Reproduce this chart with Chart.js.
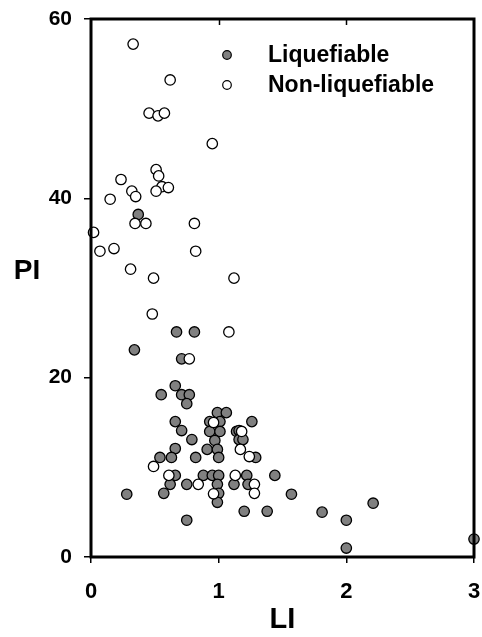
<!DOCTYPE html>
<html><head><meta charset="utf-8">
<script src="https://cdn.jsdelivr.net/npm/chart.js@4/dist/chart.umd.min.js"></script>
<style>html,body{margin:0;padding:0;background:#fff}canvas{display:block}</style>
</head><body>
<canvas id="c" width="482" height="637"></canvas>
<script>
const xTicks = [0, 1, 2, 3];
const yTicks = [0, 20, 40, 60];
const seriesNames = ['Liquefiable', 'Non-liquefiable'];
const xTitle = 'LI';
const yTitle = 'PI';

const liqLI = [0.37,0.67,0.81,0.34,0.71,0.66,0.55,0.71,0.77,0.75,0.99,1.06,0.66,0.93,1.01,1.26,0.71,0.93,1.01,1.14,1.16,0.79,0.97,1.16,1.19,0.66,0.91,0.99,0.54,0.63,0.82,1.0,1.29,0.66,0.88,0.95,1.0,1.22,1.44,0.62,0.75,0.99,1.12,1.23,0.28,0.57,1.0,1.57,0.99,2.21,1.2,1.38,1.81,0.75,2.0,2.0,3.0];
const liqPI = [38.2,25.1,25.1,23.1,22.1,19.1,18.1,18.1,18.1,17.1,16.1,16.1,15.1,15.1,15.1,15.1,14.1,14,14,14,14.1,13.1,13,13.1,13.1,12.1,12,12,11.1,11.1,11.1,11.1,11.1,9.1,9.1,9.1,9.1,9.1,9.1,8.1,8.1,8.1,8.1,8.1,7,7.1,7.1,7,6.1,6,5.1,5.1,5,4.1,4.1,1,2];

const nonLI = [0.33,0.62,0.455,0.525,0.575,0.95,0.51,0.53,0.235,0.556,0.606,0.51,0.32,0.35,0.15,0.345,0.43,0.81,0.02,0.07,0.18,0.82,0.31,0.49,1.12,0.48,1.08,0.77,0.96,1.18,1.17,1.24,0.49,0.61,1.13,0.84,1.28,0.96,1.28];
const nonPI = [57.2,53.2,49.5,49.2,49.5,46.1,43.2,42.5,42.1,41.3,41.2,40.8,40.8,40.2,39.9,37.2,37.2,37.2,36.2,34.1,34.4,34.1,32.1,31.1,31.1,27.1,25.1,22.1,15,14,12,11.2,10.1,9.1,9.1,8.1,8.1,7.05,7.1];

const FONT = '"Liberation Sans", Arial, sans-serif';
const fillColors = ['#808080', '#ffffff'];

const toPts = (xs, ys) => xs.map((x, i) => ({x: x, y: ys[i]}));

const framePlugin = {
  id: 'frame',
  afterDraw(chart) {
    const {ctx, chartArea: a, scales} = chart;
    ctx.save();
    ctx.strokeStyle = '#000';
    ctx.lineWidth = 1.5;
    xTicks.forEach(v => {
      if (v === xTicks[0] || v === xTicks[xTicks.length - 1]) return;
      const px = Math.round(scales.x.getPixelForValue(v)) + 0.5;
      ctx.beginPath(); ctx.moveTo(px, a.top); ctx.lineTo(px, a.top + 6); ctx.stroke();
    });
    ctx.lineWidth = 3;
    ctx.strokeRect(a.left, a.top, a.right - a.left, a.bottom - a.top);
    ctx.fillStyle = '#000';
    ctx.font = 'bold 28px ' + FONT;
    ctx.textAlign = 'center';
    ctx.textBaseline = 'middle';
    ctx.fillText(yTitle, 27, 271);
    const lx = 227, ly = [55, 85];
    chart.data.datasets.forEach((ds, i) => {
      ctx.beginPath();
      ctx.arc(lx, ly[i], 4.3, 0, Math.PI * 2);
      ctx.fillStyle = ds.backgroundColor;
      ctx.fill();
      ctx.lineWidth = 1.2;
      ctx.strokeStyle = '#000';
      ctx.stroke();
      ctx.fillStyle = '#000';
      ctx.font = 'bold 23px ' + FONT;
      ctx.textAlign = 'left';
      ctx.textBaseline = 'middle';
      ctx.fillText(ds.label, 268, ly[i] + 1);
    });
    ctx.restore();
  }
};

new Chart(document.getElementById('c'), {
  type: 'scatter',
  data: {
    datasets: [
      {label: seriesNames[0], data: toPts(liqLI, liqPI), backgroundColor: fillColors[0], borderColor: '#000', borderWidth: 1.3, pointRadius: 5.2, order: 2, clip: false},
      {label: seriesNames[1], data: toPts(nonLI, nonPI), backgroundColor: fillColors[1], borderColor: '#000', borderWidth: 1.3, pointRadius: 5.2, order: 1, clip: false}
    ]
  },
  options: {
    responsive: false,
    animation: false,
    devicePixelRatio: 1,
    layout: {padding: {top: 19, right: 8, left: 0, bottom: 0}},
    plugins: {legend: {display: false}, tooltip: {enabled: false}},
    scales: {
      x: {
        type: 'linear', min: 0, max: 3,
        afterBuildTicks: s => { s.ticks = xTicks.map(v => ({value: v})); },
        afterFit: s => { s.height = 80; s.paddingLeft = 0; s.paddingRight = 0; },
        border: {display: false},
        grid: {drawOnChartArea: false, color: '#000', lineWidth: 1.5, tickLength: 6},
        ticks: {color: '#000', font: {family: FONT, size: 22, weight: 'bold'}, padding: 16, maxRotation: 0},
        title: {display: true, text: xTitle, color: '#000', font: {family: FONT, size: 29, weight: 'bold'}, padding: {top: 0, bottom: 0}}
      },
      y: {
        type: 'linear', min: 0, max: 60,
        afterBuildTicks: s => { s.ticks = yTicks.map(v => ({value: v})); },
        afterFit: s => { s.width = 91; s.paddingTop = 0; s.paddingBottom = 0; },
        border: {display: false},
        grid: {drawOnChartArea: false, color: '#000', lineWidth: 1.5, tickLength: 7},
        ticks: {color: '#000', font: {family: FONT, size: 21, weight: 'bold'}, padding: 12},
        title: {display: false}
      }
    }
  },
  plugins: [framePlugin]
});
</script>
</body></html>
